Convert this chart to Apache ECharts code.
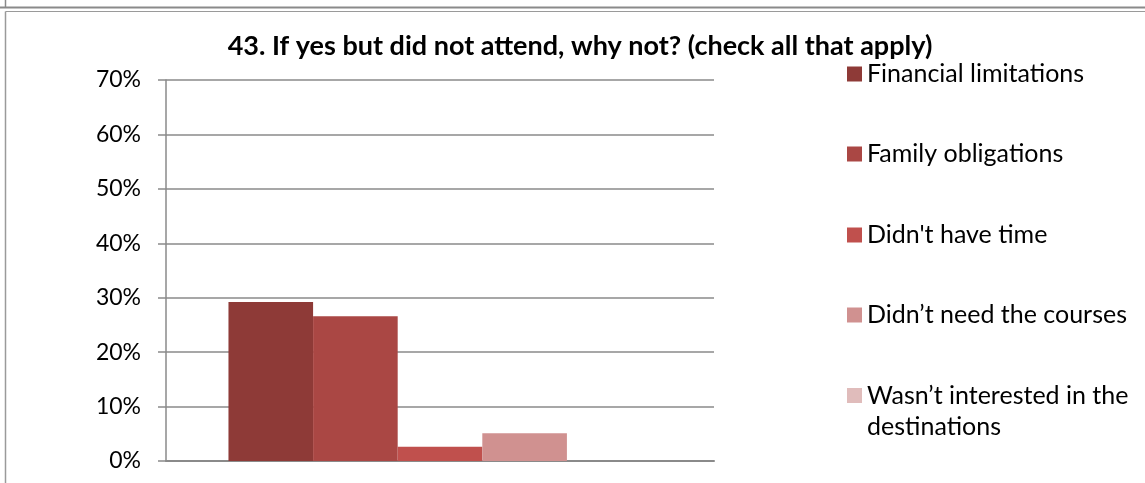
<!DOCTYPE html>
<html>
<head>
<meta charset="utf-8">
<script src="https://cdn.jsdelivr.net/npm/echarts@6/dist/echarts.min.js"></script>
<style>
html,body{margin:0;padding:0;background:#fff;}
#chart{width:1145px;height:483px;}
</style>
</head>
<body>
<div id="chart"></div>
<script>
const titleText = "43. If yes but did not attend, why not? (check all that apply)";
const categories = ["If yes but did not attend"];
const seriesNames = ["Financial limitations", "Family obligations", "Didn't have time", "Didn\u2019t need the courses", "Wasn\u2019t interested in the destinations"];
const seriesValues = [29.2, 26.6, 2.6, 5.1, 0];
const seriesColors = ["#8E3A37", "#AA4744", "#C0504D", "#D09190", "#E0BCBB"];
const yTicks = [0, 10, 20, 30, 40, 50, 60, 70];

const FONT = "Lato";
const chart = echarts.init(document.getElementById('chart'), null, {renderer: 'canvas'});

const legendCenters = [74, 154, 235, 315, 395.5];
const legends = seriesNames.map((n, i) => {
  const last = i === seriesNames.length - 1;
  return {
    orient: 'vertical',
    left: 847,
    top: last ? legendCenters[i] - 46.5 : legendCenters[i] - 15.5,
    padding: 0,
    itemWidth: 15,
    itemHeight: 15,
    icon: 'rect',
    selectedMode: false,
    data: [n],
    formatter: last ? (name => '\n' + name.replace(' the ', ' the\n')) : undefined,
    textStyle: {fontFamily: FONT, fontSize: 25, color: '#000', lineHeight: 31}
  };
});

const option = {
  animation: false,
  title: {
    text: titleText,
    left: 580, top: 30, padding: 0, textAlign: 'center',
    textStyle: {fontFamily: FONT, fontWeight: 'bold', fontSize: 27, color: '#000', lineHeight: 32}
  },
  legend: legends,
  grid: {left: 166, right: 431, top: 80, bottom: 22, containLabel: false},
  xAxis: {
    type: 'category', data: categories,
    axisLine: {show: true, lineStyle: {color: '#8a8a8a', width: 2}},
    axisTick: {show: false}, axisLabel: {show: false}, splitLine: {show: false}
  },
  yAxis: {
    type: 'value', min: yTicks[0], max: yTicks[yTicks.length - 1], interval: 10,
    axisLine: {show: true, lineStyle: {color: '#8a8a8a', width: 1.5}},
    axisTick: {show: true, inside: false, length: 8, lineStyle: {color: '#8a8a8a', width: 1.5}},
    axisLabel: {margin: 25, fontFamily: FONT, fontSize: 23, color: '#000', formatter: '{value}%'},
    splitLine: {show: true, lineStyle: {color: '#8a8a8a', width: 1.5}}
  },
  series: seriesNames.map((n, i) => ({
    name: n, type: 'bar', data: [seriesValues[i]],
    barGap: '0%', barCategoryGap: '22.8%',
    itemStyle: {color: seriesColors[i]}
  })),
  graphic: [
    {type: 'line', silent: true, shape: {x1: 0, y1: 7.5, x2: 1145, y2: 7.5}, style: {stroke: '#8a8a8a', lineWidth: 2}},
    {type: 'line', silent: true, shape: {x1: 5.5, y1: 0, x2: 5.5, y2: 7}, style: {stroke: '#8a8a8a', lineWidth: 1.5}},
    {type: 'line', silent: true, shape: {x1: 5.5, y1: 11.5, x2: 1145, y2: 11.5}, style: {stroke: '#9a9a9a', lineWidth: 1.2}},
    {type: 'line', silent: true, shape: {x1: 5.5, y1: 11.5, x2: 5.5, y2: 483}, style: {stroke: '#9a9a9a', lineWidth: 1.5}}
  ]
};
chart.setOption(option);
</script>
</body>
</html>
